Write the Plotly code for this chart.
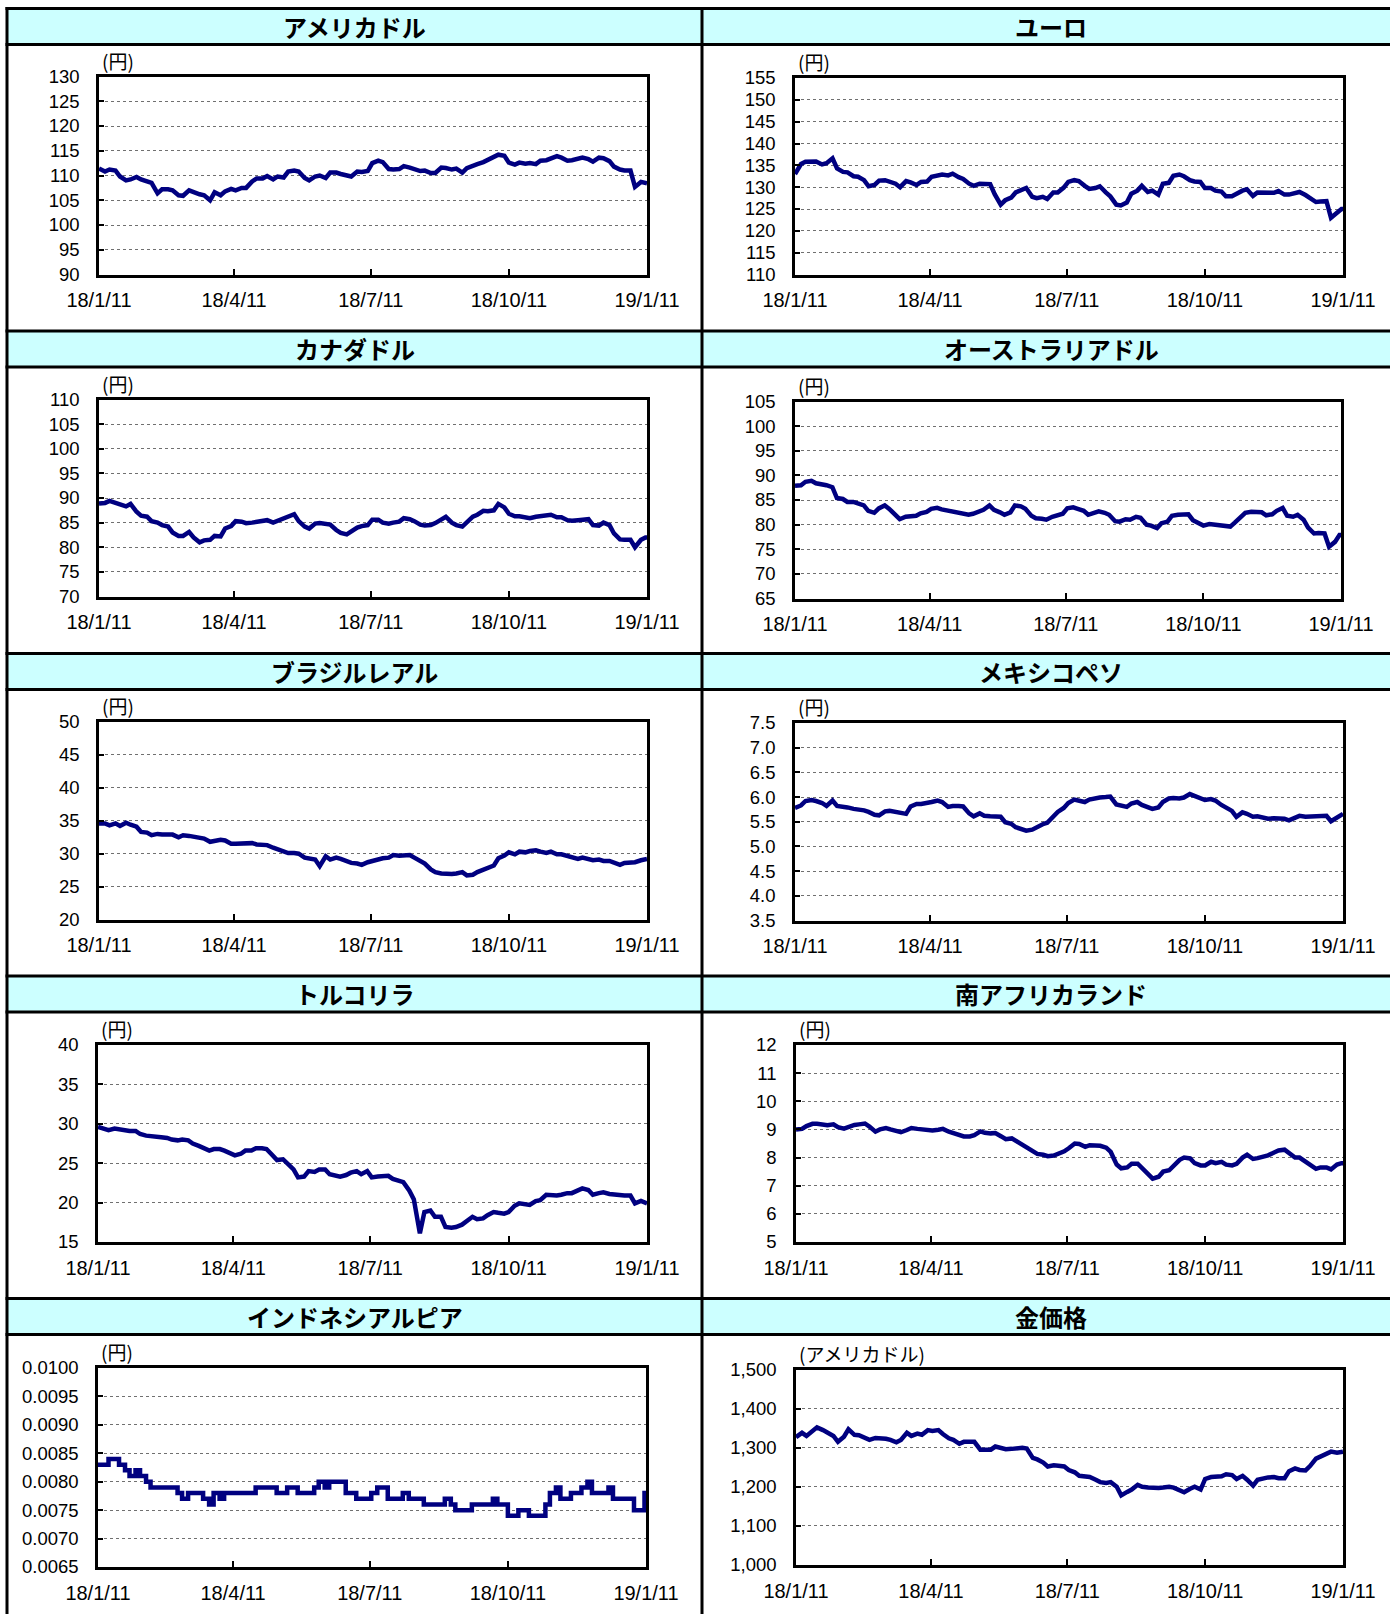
import pandas as pd
import plotly.graph_objects as go

# ---- observation dates: Thursdays and Mondays from 2018-01-11, closing on 2019-01-11 ----
start = pd.Timestamp("2018-01-11")
dates = []
for w in range(53):
    thu = start + pd.Timedelta(days=7 * w)
    dates.append(thu)
    if w < 52:
        dates.append(thu + pd.Timedelta(days=4))
dates.append(pd.Timestamp("2019-01-11"))
dates = [d.strftime("%Y-%m-%d") for d in dates]

# ---- series (円 per unit; gold in US dollars per ounce) ----
usd = [111.4, 110.8, 111.2, 111.0, 109.8, 109.0, 109.2, 109.7, 109.2, 108.8, 108.5, 106.4,
       107.2, 107.2, 107.0, 106.0, 105.9, 107.0, 106.6, 106.2, 106.0, 105.0, 106.6, 106.0,
       106.8, 107.3, 107.0, 107.5, 107.5, 108.8, 109.4, 109.4, 109.9, 109.2, 109.8, 109.6,
       110.8, 111.0, 110.8, 109.5, 109.0, 109.8, 110.0, 109.5, 110.6, 110.6, 110.3, 110.0,
       109.8, 110.8, 110.7, 110.9, 112.5, 113.0, 112.7, 111.3, 111.2, 111.3, 111.9, 111.6,
       111.3, 110.9, 111.0, 110.5, 110.5, 111.6, 111.5, 111.2, 111.4, 110.6, 111.5, 112.1,
       112.3, 112.7, 113.1, 113.8, 114.2, 114.0, 112.6, 112.2, 112.6, 112.4, 112.5, 112.3,
       113.0, 113.1, 113.4, 113.9, 113.6, 113.0, 113.1, 113.4, 113.6, 113.3, 112.8, 113.6,
       113.5, 112.9, 111.8, 111.2, 111.0, 111.0, 107.7, 108.7, 108.4, 108.4]

eur = [133.0, 135.3, 135.8, 135.9, 135.9, 135.2, 135.5, 136.6, 134.3, 133.5, 133.4, 132.5,
       132.4, 131.6, 130.2, 130.5, 131.5, 131.6, 131.2, 130.8, 130.0, 131.4, 131.1, 130.5,
       131.2, 131.3, 132.4, 132.6, 132.9, 132.7, 133.1, 132.3, 131.9, 130.8, 130.3, 130.8,
       130.8, 130.7, 128.4, 126.0, 127.0, 127.6, 128.8, 129.5, 129.8, 127.8, 127.5, 127.8,
       127.3, 128.8, 128.8, 129.9, 131.2, 131.6, 131.4, 130.3, 129.6, 129.8, 130.2, 128.8,
       127.9, 126.0, 125.8, 126.5, 128.5, 129.2, 130.3, 128.9, 129.2, 128.3, 130.8, 131.0,
       132.6, 132.9, 132.5, 131.6, 131.3, 131.2, 129.8, 129.8, 129.2, 129.0, 127.9, 127.9,
       128.5, 129.2, 129.5, 128.0, 128.8, 128.8, 128.8, 128.7, 129.1, 128.3, 128.3, 128.6,
       128.9, 128.2, 127.6, 126.6, 126.7, 126.8, 123.0, 124.2, 125.0, 125.0]

cad = [88.9, 89.0, 89.4, 88.9, 88.7, 88.3, 88.8, 87.2, 86.4, 86.2, 85.3, 85.0,
       84.5, 84.2, 83.0, 82.3, 82.3, 83.1, 82.0, 81.0, 81.4, 81.5, 82.3, 82.2,
       83.8, 84.3, 85.3, 85.2, 84.9, 85.0, 85.1, 85.3, 85.5, 85.0, 85.4, 85.8,
       86.3, 86.7, 85.3, 84.2, 83.8, 84.8, 84.9, 84.8, 84.6, 83.5, 82.9, 82.6,
       83.2, 84.0, 84.3, 84.5, 85.6, 85.6, 85.0, 84.8, 85.0, 85.2, 85.9, 85.7,
       85.3, 84.6, 84.4, 84.5, 84.9, 85.6, 86.2, 85.0, 84.5, 84.2, 85.2, 86.2,
       86.6, 87.4, 87.3, 87.5, 88.8, 88.1, 86.8, 86.3, 86.3, 86.0, 85.9, 86.2,
       86.3, 86.4, 86.6, 86.1, 86.1, 85.5, 85.4, 85.5, 85.6, 85.7, 84.5, 84.4,
       85.0, 84.5, 82.8, 81.6, 81.5, 81.5, 80.0, 81.5, 82.0, 82.0]

aud = [87.9, 88.0, 88.7, 88.9, 88.4, 88.2, 88.0, 87.6, 85.4, 85.2, 84.6, 84.6,
       84.2, 83.9, 82.8, 82.4, 83.3, 83.9, 83.2, 82.0, 81.1, 81.6, 81.7, 81.8,
       82.3, 82.6, 83.2, 83.4, 83.1, 82.9, 82.7, 82.4, 82.3, 82.0, 82.2, 82.6,
       83.0, 83.9, 83.0, 82.5, 82.0, 82.5, 83.9, 83.7, 83.2, 81.8, 81.3, 81.2,
       81.0, 81.6, 81.8, 82.2, 83.3, 83.5, 83.2, 82.8, 82.0, 82.3, 82.7, 82.4,
       82.0, 80.7, 80.6, 81.1, 81.0, 81.6, 81.4, 80.0, 79.8, 79.3, 80.3, 80.6,
       81.8, 82.0, 82.0, 82.1, 80.9, 80.2, 79.8, 80.1, 80.0, 79.8, 79.8, 79.6,
       80.4, 81.4, 82.4, 82.6, 82.6, 82.5, 81.9, 82.1, 82.8, 83.4, 81.8, 81.6,
       82.0, 81.0, 79.4, 78.2, 78.3, 78.2, 75.5, 76.5, 77.9, 77.9]

brl = [34.6, 34.6, 34.3, 34.6, 34.2, 34.7, 34.4, 34.1, 33.3, 33.2, 32.8, 33.0,
       32.9, 32.9, 32.9, 32.5, 32.8, 32.7, 32.6, 32.3, 32.3, 31.8, 31.9, 32.1,
       32.0, 31.5, 31.5, 31.5, 31.5, 31.6, 31.4, 31.4, 31.3, 30.9, 30.7, 30.4,
       30.1, 30.1, 30.0, 29.4, 29.2, 29.1, 28.1, 29.6, 29.1, 29.4, 29.2, 28.9,
       28.6, 28.5, 28.3, 28.7, 28.9, 29.1, 29.3, 29.4, 29.8, 29.7, 29.8, 29.8,
       29.4, 28.8, 28.5, 27.6, 27.2, 27.0, 26.9, 26.9, 27.0, 27.2, 26.7, 26.8,
       27.2, 27.6, 27.9, 28.2, 29.3, 29.7, 30.2, 29.9, 30.3, 30.2, 30.4, 30.5,
       30.3, 30.1, 30.3, 29.9, 29.9, 29.7, 29.5, 29.2, 29.4, 29.2, 29.0, 29.1,
       28.9, 28.9, 28.7, 28.3, 28.6, 28.6, 28.7, 29.0, 29.2, 29.2]

mxn = [5.78, 5.83, 5.92, 5.94, 5.92, 5.88, 5.82, 5.93, 5.82, 5.81, 5.79, 5.76,
       5.75, 5.73, 5.70, 5.64, 5.63, 5.71, 5.72, 5.70, 5.68, 5.66, 5.81, 5.86,
       5.86, 5.87, 5.90, 5.93, 5.90, 5.80, 5.82, 5.82, 5.81, 5.67, 5.61, 5.67,
       5.62, 5.61, 5.60, 5.60, 5.49, 5.46, 5.39, 5.35, 5.32, 5.34, 5.39, 5.45,
       5.48, 5.61, 5.70, 5.78, 5.88, 5.95, 5.92, 5.90, 5.95, 5.98, 5.99, 6.00,
       6.01, 5.85, 5.82, 5.80, 5.87, 5.90, 5.84, 5.78, 5.76, 5.79, 5.90, 5.97,
       5.98, 5.97, 5.99, 6.06, 6.02, 5.99, 5.94, 5.96, 5.93, 5.84, 5.78, 5.72,
       5.60, 5.69, 5.66, 5.60, 5.61, 5.57, 5.56, 5.57, 5.57, 5.56, 5.53, 5.58,
       5.62, 5.60, 5.60, 5.60, 5.61, 5.62, 5.51, 5.58, 5.65, 5.66]

try_lira = [29.6, 29.4, 29.2, 29.4, 29.3, 29.1, 29.1, 29.1, 28.7, 28.5, 28.4, 28.3,
            28.3, 28.2, 28.0, 27.9, 28.0, 27.9, 27.5, 27.2, 26.9, 26.6, 26.8, 26.8,
            26.6, 26.3, 26.0, 26.2, 26.6, 26.6, 26.9, 26.9, 26.8, 26.0, 25.4, 25.5,
            24.9, 24.2, 23.2, 23.3, 24.0, 23.9, 24.2, 24.2, 23.6, 23.4, 23.3, 23.5,
            23.8, 24.0, 23.6, 24.0, 23.2, 23.3, 23.4, 23.4, 23.0, 22.8, 22.6, 21.5,
            20.4, 16.1, 18.8, 19.0, 18.2, 18.2, 16.9, 16.8, 16.9, 17.2, 17.7, 18.2,
            17.9, 18.0, 18.4, 18.8, 18.7, 18.6, 18.8, 19.6, 19.9, 19.8, 19.7, 20.2,
            20.3, 21.0, 20.9, 20.9, 21.0, 21.2, 21.2, 21.5, 21.8, 21.6, 21.0, 21.2,
            21.3, 21.1, 21.0, 20.9, 20.9, 20.9, 19.9, 20.2, 19.9, 19.9]

zar = [9.00, 9.02, 9.12, 9.20, 9.20, 9.18, 9.15, 9.18, 9.08, 9.03, 9.10, 9.16,
       9.18, 9.21, 9.10, 8.92, 9.00, 9.05, 9.00, 8.92, 8.90, 8.98, 9.05, 9.02,
       9.00, 8.96, 8.96, 8.99, 9.02, 8.92, 8.87, 8.80, 8.75, 8.75, 8.80, 8.93,
       8.88, 8.86, 8.87, 8.75, 8.65, 8.68, 8.58, 8.43, 8.32, 8.22, 8.13, 8.10,
       8.05, 8.07, 8.12, 8.22, 8.33, 8.50, 8.48, 8.38, 8.44, 8.45, 8.42, 8.35,
       8.20, 7.75, 7.62, 7.65, 7.78, 7.78, 7.62, 7.42, 7.25, 7.32, 7.50, 7.55,
       7.70, 7.92, 8.00, 7.97, 7.80, 7.72, 7.72, 7.85, 7.80, 7.85, 7.75, 7.72,
       7.78, 8.00, 8.10, 7.95, 7.98, 8.03, 8.08, 8.18, 8.25, 8.28, 8.15, 8.00,
       8.00, 7.85, 7.75, 7.60, 7.65, 7.65, 7.58, 7.75, 7.80, 7.80]

idr = [0.0083, 0.0083, 0.0084, 0.0084, 0.0083, 0.0082, 0.0081, 0.0082, 0.0081, 0.0080,
       0.0079, 0.0079, 0.0079, 0.0079, 0.0079, 0.0078, 0.0077, 0.0078, 0.0078, 0.0078,
       0.0077, 0.0076, 0.0078, 0.0077, 0.0078, 0.0078, 0.0078, 0.0078, 0.0078, 0.0078,
       0.0079, 0.0079, 0.0079, 0.0079, 0.0078, 0.0078, 0.0079, 0.0079, 0.0078, 0.0078,
       0.0078, 0.0079, 0.0080, 0.0079, 0.0080, 0.0080, 0.0080, 0.0078, 0.0078, 0.0077,
       0.0077, 0.0077, 0.0078, 0.0079, 0.0079, 0.0077, 0.0077, 0.0077, 0.0078, 0.0077,
       0.0077, 0.0077, 0.0076, 0.0076, 0.0076, 0.0076, 0.0077, 0.0076, 0.0075, 0.0075,
       0.0075, 0.0076, 0.0076, 0.0076, 0.0076, 0.0077, 0.0076, 0.0076, 0.0074, 0.0074,
       0.0075, 0.0075, 0.0074, 0.0074, 0.0074, 0.0076, 0.0078, 0.0079, 0.0077, 0.0077,
       0.0078, 0.0078, 0.0079, 0.0080, 0.0078, 0.0078, 0.0078, 0.0079, 0.0077, 0.0077,
       0.0077, 0.0077, 0.0075, 0.0075, 0.0078, 0.0078]

gold = [1327, 1338, 1330, 1342, 1352, 1345, 1338, 1330, 1315, 1328, 1347, 1333,
        1332, 1325, 1320, 1325, 1325, 1323, 1320, 1314, 1320, 1338, 1330, 1336,
        1333, 1345, 1343, 1345, 1335, 1324, 1320, 1310, 1315, 1316, 1315, 1295,
        1295, 1295, 1303, 1300, 1296, 1297, 1298, 1300, 1298, 1274, 1270, 1262,
        1252, 1255, 1254, 1252, 1243, 1237, 1228, 1227, 1225, 1218, 1212, 1210,
        1212, 1200, 1178, 1187, 1193, 1205, 1200, 1198, 1197, 1197, 1198, 1200,
        1198, 1192, 1186, 1195, 1200, 1193, 1220, 1225, 1225, 1227, 1232, 1230,
        1220, 1228, 1218, 1203, 1218, 1222, 1224, 1225, 1222, 1222, 1240, 1247,
        1243, 1242, 1253, 1272, 1278, 1285, 1290, 1287, 1290, 1290]

titles = ["アメリカドル", "ユーロ", "カナダドル", "オーストラリアドル", "ブラジルレアル",
          "メキシコペソ", "トルコリラ", "南アフリカランド", "インドネシアルピア", "金価格"]
units = ["(円)"] * 9 + ["(アメリカドル)"]
series = [usd, eur, cad, aud, brl, mxn, try_lira, zar, idr, gold]
y_ranges = [(90, 130), (110, 155), (70, 110), (65, 105), (20, 50),
            (3.5, 7.5), (15, 40), (5, 12), (0.0065, 0.0100), (1000, 1500)]
y_steps = [5, 5, 5, 5, 5, 0.5, 5, 1, 0.0005, 100]
y_formats = ["d", "d", "d", "d", "d", ".1f", "d", "d", ".4f", ",d"]
x_tick_dates = ["2018-01-11", "2018-04-11", "2018-07-11", "2018-10-11", "2019-01-11"]
x_tick_text = ["18/1/11", "18/4/11", "18/7/11", "18/10/11", "19/1/11"]

# ---- page geometry (pixels) ----
W, H = 1390, 1614
LEFT_EDGE, MID = 7, 702
ROW_TOPS = [8.5, 331, 653.5, 976, 1298.5]
HEADER_H = 36
# plot boxes: (left, right, top offset from header top, bottom offset)
boxes = [
    (99, 647, 68, 266), (795, 1343, 69.5, 266),
    (99, 647, 68.5, 265.5), (795, 1341, 70.5, 267.5),
    (99, 647, 68.5, 266), (795, 1343, 69.5, 267),
    (98, 647, 69, 266), (796, 1343, 69, 266),
    (98, 646, 69.5, 268.5), (796, 1343, 71, 266.5),
]

NAVY = "#000080"
Y_TICK_FONT = dict(family="Liberation Sans, Arial, sans-serif", size=18.5, color="black")
X_TICK_FONT = dict(family="Liberation Sans, Arial, sans-serif", size=20, color="black")
JP_FONT = "Noto Sans CJK JP"


def px(x):
    return x / W


def py(y):
    return 1 - y / H


fig = go.Figure()
layout = dict(
    template="none",
    width=W, height=H,
    margin=dict(l=0, r=0, t=0, b=0, pad=0, autoexpand=False),
    paper_bgcolor="white", plot_bgcolor="white", showlegend=False,
)
annotations = []
shapes = []

for i in range(10):
    row, col = divmod(i, 2)
    top0 = ROW_TOPS[row]
    left, right, t_off, b_off = boxes[i]
    top, bottom = top0 + t_off, top0 + b_off
    ax = "" if i == 0 else str(i + 1)

    fig.add_trace(go.Scatter(
        x=dates, y=series[i], mode="lines",
        line=dict(color=NAVY, width=4.5, shape="hv" if i == 8 else "linear"),
        xaxis="x" + ax, yaxis="y" + ax, hoverinfo="x+y",
    ))

    layout["xaxis" + ax] = dict(
        domain=[px(left), px(right)], anchor="y" + ax, type="date",
        range=["2018-01-11", "2019-01-11"], automargin=False,
        tickmode="array", tickvals=x_tick_dates, ticktext=x_tick_text,
        ticks="inside", ticklen=6, tickwidth=2, tickcolor="black",
        showline=True, mirror=True, linecolor="black", linewidth=2.5,
        showgrid=False, zeroline=False, tickfont=X_TICK_FONT, ticklabelstandoff=6,
        fixedrange=True,
    )
    lo, hi = y_ranges[i]
    layout["yaxis" + ax] = dict(
        domain=[py(bottom), py(top)], anchor="x" + ax, automargin=False,
        range=[lo, hi], tick0=lo, dtick=y_steps[i], tickformat=y_formats[i],
        ticks="inside", ticklen=5, tickwidth=2, tickcolor="black",
        showline=True, mirror=True, linecolor="black", linewidth=2.5,
        showgrid=True, gridcolor="#707070", gridwidth=1, griddash="dot",
        zeroline=False, tickfont=Y_TICK_FONT, ticklabelstandoff=13,
        fixedrange=True,
    )

    # unit label above the plot box
    annotations.append(dict(
        x=px(left + 1), y=py(top - 1), xref="paper", yref="paper",
        xanchor="left", yanchor="bottom", showarrow=False, text=units[i],
        font=dict(family=JP_FONT, size=19, color="black"),
    ))

    # panel header title
    cx = (LEFT_EDGE + MID) / 2 if col == 0 else (MID + 1400) / 2
    annotations.append(dict(
        x=px(cx), y=py(top0 + HEADER_H / 2), xref="paper", yref="paper",
        xanchor="center", yanchor="middle", showarrow=False,
        text="<b>" + titles[i] + "</b>",
        font=dict(family=JP_FONT, size=24, color="black"),
    ))

# header bands and their rules
for top0 in ROW_TOPS:
    shapes.append(dict(type="rect", xref="paper", yref="paper", layer="below",
                       x0=px(LEFT_EDGE), x1=1.01, y0=py(top0 + HEADER_H), y1=py(top0),
                       fillcolor="#CCFFFF", line=dict(width=0)))
    for yy in (top0, top0 + HEADER_H):
        shapes.append(dict(type="line", xref="paper", yref="paper",
                           x0=px(LEFT_EDGE - 1.5), x1=1.01, y0=py(yy), y1=py(yy),
                           line=dict(color="black", width=3)))

# vertical panel borders
for xx in (LEFT_EDGE, MID):
    shapes.append(dict(type="line", xref="paper", yref="paper",
                       x0=px(xx), x1=px(xx), y0=py(ROW_TOPS[0] - 1.5), y1=-0.01,
                       line=dict(color="black", width=3)))

layout["annotations"] = annotations
layout["shapes"] = shapes
fig.update_layout(**layout)
fig.write_html("out.html")
